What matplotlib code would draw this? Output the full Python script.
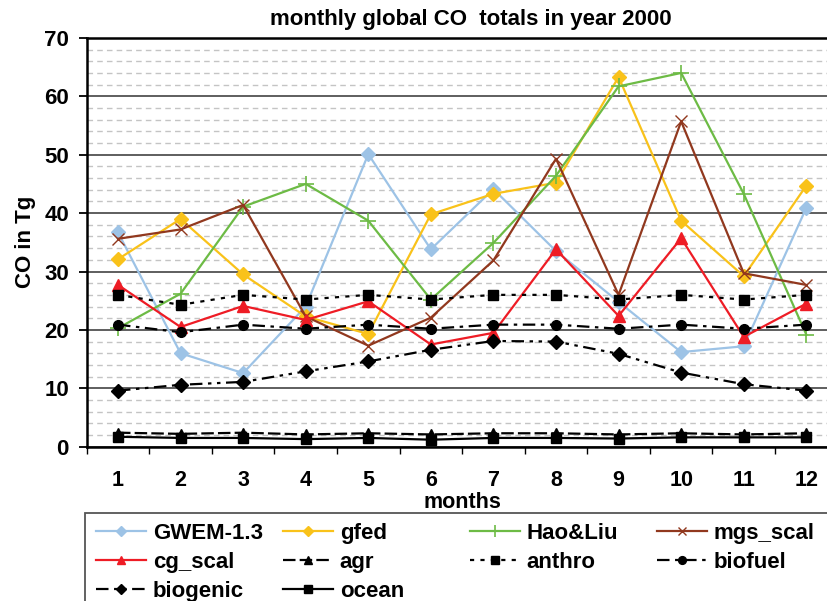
import matplotlib
matplotlib.use("Agg")
import matplotlib.pyplot as plt
from matplotlib.patches import Rectangle
from matplotlib.ticker import MultipleLocator, FixedLocator, NullFormatter

plt.rcParams['font.family'] = ['Liberation Sans', 'DejaVu Sans']
plt.rcParams['font.weight'] = 'bold'
plt.rcParams['lines.scale_dashes'] = False

months = list(range(1, 13))
month_labels = [str(m) for m in months]

gwem = [36.7, 16.0, 12.6, 24.0, 50.1, 33.8, 44.1, 33.5, 24.8, 16.2, 17.2, 40.9]
gfed = [32.1, 39.0, 29.5, 22.3, 19.3, 39.8, 43.3, 45.2, 63.3, 38.7, 29.2, 44.7]
haoliu = [20.3, 26.2, 41.1, 45.0, 38.7, 25.2, 34.9, 46.4, 61.7, 64.0, 43.3, 19.2]
mgs_scal = [35.6, 37.2, 41.4, 22.3, 17.3, 22.1, 31.9, 49.3, 26.0, 55.7, 29.7, 27.7]
cg_scal = [27.7, 20.5, 24.1, 21.7, 24.9, 17.5, 19.5, 33.8, 22.4, 35.7, 18.8, 24.5]
agr = [2.4, 2.2, 2.4, 2.1, 2.3, 2.1, 2.3, 2.3, 2.1, 2.3, 2.1, 2.3]
anthro = [26.0, 24.3, 26.0, 25.2, 26.0, 25.2, 26.0, 26.0, 25.2, 26.0, 25.2, 26.0]
biofuel = [20.9, 19.6, 20.9, 20.2, 20.9, 20.2, 20.9, 20.9, 20.2, 20.9, 20.2, 20.9]
biogenic = [9.6, 10.6, 11.1, 12.9, 14.6, 16.6, 18.1, 18.0, 15.9, 12.7, 10.7, 9.6]
ocean = [1.7, 1.5, 1.5, 1.3, 1.5, 1.2, 1.5, 1.5, 1.4, 1.6, 1.6, 1.6]

W, H = 828, 601
fig = plt.figure(figsize=(W / 100, H / 100), dpi=100)

def fx(px):
    return px / W

def fy(py):
    return 1 - py / H

ax_l, ax_r, ax_t, ax_b = 86.7, 837.6, 37.9, 446.7
ax = fig.add_axes([fx(ax_l), fy(ax_b), fx(ax_r - ax_l), (ax_b - ax_t) / H])

lw = 1.6
h = {}
h['GWEM-1.3'], = ax.plot(months, gwem, color='#9DC3E6', lw=lw, marker='D', ms=7, label='GWEM-1.3')
h['gfed'], = ax.plot(months, gfed, color='#F9C21A', lw=lw, marker='D', ms=7, label='gfed')
h['Hao&Liu'], = ax.plot(months, haoliu, color='#6DBB45', lw=lw, marker='+', ms=11, mew=1.2, label='Hao&Liu')
h['mgs_scal'], = ax.plot(months, mgs_scal, color='#91381E', lw=lw, marker='x', ms=8, mew=1.0, label='mgs_scal')
h['cg_scal'], = ax.plot(months, cg_scal, color='#EE1C25', lw=lw, marker='^', ms=8, label='cg_scal')
h['agr'], = ax.plot(months, agr, color='black', lw=lw, ls=(0, (9, 3)), marker='^', ms=7, label='agr')
h['anthro'], = ax.plot(months, anthro, color='black', lw=lw, ls=(0, (3, 4.5)), marker='s', ms=7, label='anthro')
h['biofuel'], = ax.plot(months, biofuel, color='black', lw=lw, ls=(0, (9, 4, 2.5, 4)), marker='o', ms=7, label='biofuel')
h['biogenic'], = ax.plot(months, biogenic, color='black', lw=lw, ls=(0, (9, 4, 2.5, 4, 2.5, 4)), marker='D', ms=7, label='biogenic')
h['ocean'], = ax.plot(months, ocean, color='black', lw=lw, marker='s', ms=7, label='ocean')

ax.set_xlim(0.5, 12.5)
ax.set_ylim(0, 70)

# y axis
ax.yaxis.set_major_locator(MultipleLocator(10))
ax.yaxis.set_minor_locator(MultipleLocator(2))
ax.tick_params(axis='y', which='major', direction='out', length=5.8, width=1.3,
               pad=7, labelsize=16)
ax.tick_params(axis='y', which='minor', length=0)
ax.grid(axis='y', which='major', color='#333333', lw=1.1)
ax.grid(axis='y', which='minor', color='#C4C4C4', lw=1.0, ls=(0, (4, 3)))
ax.set_axisbelow(True)

# x axis: boundary ticks, centred labels
ax.xaxis.set_major_locator(FixedLocator([m + 0.5 for m in range(0, 13)]))
ax.xaxis.set_major_formatter(NullFormatter())
ax.xaxis.set_minor_locator(FixedLocator(months))
ax.set_xticklabels(month_labels, minor=True)
ax.tick_params(axis='x', which='major', direction='out', length=5, width=1.0)
ax.tick_params(axis='x', which='minor', length=0, pad=17, labelsize=15.5)

for s in ['left', 'bottom', 'top']:
    ax.spines[s].set_linewidth(1.8)
    ax.spines[s].set_color('black')
ax.spines['right'].set_visible(False)

ax.set_xlabel('months', fontsize=15.5, fontweight='bold')
ax.xaxis.set_label_coords((462 - ax_l) / (ax_r - ax_l), -(491.5 - ax_b) / (ax_b - ax_t))
ax.xaxis.label.set_va('top')
ax.set_ylabel('CO in Tg', fontsize=16, fontweight='bold')
ax.yaxis.set_label_coords(-(ax_l - 36) / (ax_r - ax_l), 0.5)

fig.text(fx(471), fy(19), 'monthly global CO  totals in year 2000', ha='center', va='center',
         fontsize=16, fontweight='bold')

# legend frame
fig.patches.append(Rectangle((fx(85.5), fy(700)), fx(800), (700 - 513) / H, fill=False,
                             edgecolor='#555555', lw=1.3, transform=fig.transFigure,
                             clip_on=False))

columns = [
    ['GWEM-1.3', 'cg_scal', 'biogenic'],
    ['gfed', 'agr', 'ocean'],
    ['Hao&Liu', 'anthro'],
    ['mgs_scal', 'biofuel'],
]
col_x = [96, 283, 470, 657]
for cx, names in zip(col_x, columns):
    fig.legend([h[n] for n in names], names, loc='upper left',
               bbox_to_anchor=(fx(cx), fy(523)), bbox_transform=fig.transFigure,
               frameon=False, borderpad=0, borderaxespad=0, handlelength=2.25,
               handletextpad=0.3, labelspacing=0.35, numpoints=1, markerscale=0.8,
               prop={'size': 16, 'weight': 'bold'})

fig.savefig('out.png', dpi=100)
